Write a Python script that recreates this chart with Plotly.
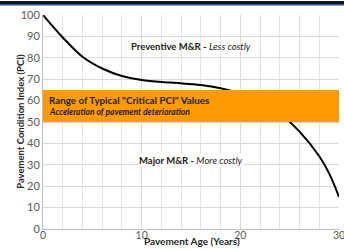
import plotly.graph_objects as go

years = [0, 2, 4, 6, 8, 10, 13, 16, 18, 20, 22, 24, 26, 28, 29, 30]
pci = [100, 89.5, 80.5, 75, 71.5, 69.6, 68.4, 67.3, 65.8, 63.3, 59.5, 54, 45.5, 34, 26, 15]

band_low = 50
band_high = 65
x_ticks = [0, 10, 20, 30]
y_ticks = [0, 10, 20, 30, 40, 50, 60, 70, 80, 90, 100]

FONT = "Lato"
fig = go.Figure()

fig.add_shape(type="rect", xref="x", yref="y", x0=0, x1=30, y0=band_low, y1=band_high,
              fillcolor="#FF9A00", line=dict(width=0), layer="above")

fig.add_trace(go.Scatter(x=years, y=pci, mode="lines", line=dict(color="black", width=2, shape="spline", smoothing=1.0),
                         hoverinfo="skip", showlegend=False, cliponaxis=False))

# top dark bar
fig.add_shape(type="rect", xref="paper", yref="paper", x0=-0.3, x1=1.1, y0=1.05, y1=1.066,
              fillcolor="#0b1626", line=dict(width=0), layer="above")
fig.add_shape(type="line", xref="paper", yref="paper", x0=-0.3, x1=1.1, y0=1.048, y1=1.048,
              line=dict(color="#2f5597", width=1.5), layer="above")

fig.add_annotation(x=15.0, y=85.5, xref="x", yref="y", showarrow=False,
                   text="<b>Preventive M&R - </b><i>Less costly</i>",
                   font=dict(family=FONT, size=9.5, color="#1a1a1a"))
fig.add_annotation(x=15.0, y=31.8, xref="x", yref="y", showarrow=False,
                   text="<b>Major M&R - </b><i>More costly</i>", bgcolor="white",
                   font=dict(family=FONT, size=9.5, color="#1a1a1a"))
fig.add_annotation(x=0.45, y=60.5, xref="x", yref="y", showarrow=False, xanchor="left",
                   text="<b>Range of Typical \"Critical PCI\" Values</b>",
                   font=dict(family=FONT, size=9.8, color="#1a1a1a"))
fig.add_annotation(x=0.45, y=54.8, xref="x", yref="y", showarrow=False, xanchor="left",
                   text="<b><i>Acceleration of pavement deterioration</i></b>",
                   font=dict(family=FONT, size=8.5, color="#1a1a1a"))

# axis titles
fig.add_annotation(x=-0.1, y=0.505, xref="paper", yref="paper", showarrow=False, textangle=-90,
                   text="<b>Pavement Condition Index (PCI)</b>",
                   font=dict(family=FONT, size=9.5, color="#262626"))
fig.add_annotation(x=0.505, y=-0.092, xref="paper", yref="paper", showarrow=False,
                   text="<b>Pavement Age (Years)</b>",
                   font=dict(family=FONT, size=10, color="#262626"))

fig.update_layout(
    width=344, height=250,
    margin=dict(l=43, r=5, t=15, b=21),
    paper_bgcolor="white", plot_bgcolor="white",
    font=dict(family=FONT, color="#595959"),
    xaxis=dict(range=[0, 30], tickvals=x_ticks, showgrid=True, gridcolor="#d9d9d9", gridwidth=1,
               minor=dict(dtick=2, showgrid=True, gridcolor="#e3e3e3", gridwidth=1),
               showline=True, linecolor="#bfbfbf", linewidth=1, zeroline=False, automargin=False,
               ticklabeloverflow="allow", ticks="", ticklen=0, ticklabelstandoff=-4,
               tickfont=dict(family=FONT, size=10.5, color="#595959")),
    yaxis=dict(range=[0, 100], tickvals=y_ticks, showgrid=True, gridcolor="#d9d9d9", gridwidth=1,
               showline=True, linecolor="#bfbfbf", linewidth=1, zeroline=False, automargin=False,
               ticks="", ticklen=0,
               tickfont=dict(family=FONT, size=11, color="#595959")),
)

fig.write_html("out.html", config={"displayModeBar": False},
               post_script="document.body.style.margin='0px';document.body.style.overflow='hidden';")
